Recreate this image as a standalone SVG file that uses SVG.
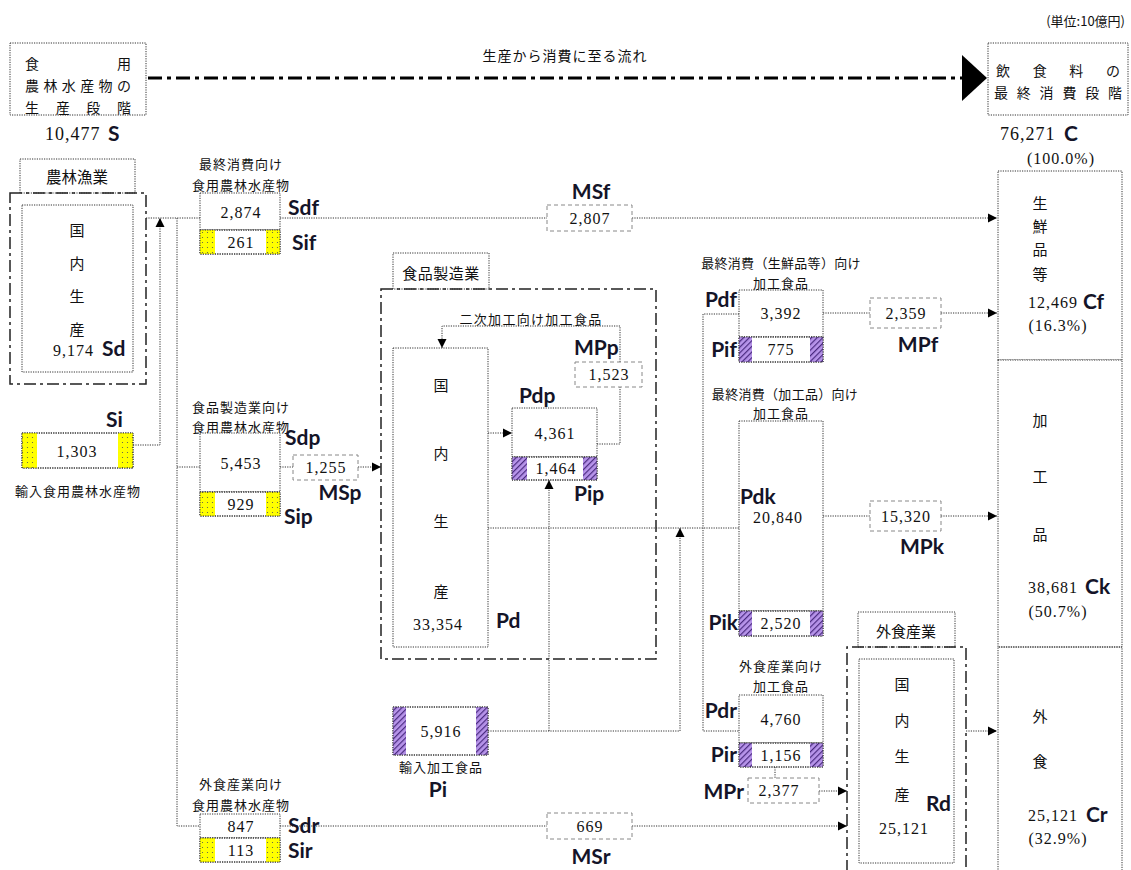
<svg xmlns="http://www.w3.org/2000/svg" width="1131" height="870" viewBox="0 0 1131 870">
<style>
.jp{font-family:"Noto Sans CJK JP","Noto Sans CJK SC",sans-serif;fill:#111}
.s12{font-size:13px;letter-spacing:1px}
.s14{font-size:15px}
.num{font-family:"Liberation Serif","DejaVu Serif",serif;font-size:16px;letter-spacing:1px;fill:#111}
.big{font-family:"Liberation Serif","DejaVu Serif",serif;font-size:18px;letter-spacing:1px;fill:#111}
.lab{font-family:Lato,"Open Sans","Liberation Sans",sans-serif;font-weight:bold;font-size:21px;fill:#141428}
.dot{fill:#fff;stroke:#333;stroke-width:1;stroke-dasharray:1.2,1.2}
.dotn{fill:none;stroke:#333;stroke-width:1;stroke-dasharray:1.2,1.2}
.dd{fill:none;stroke:#222;stroke-width:1.5;stroke-dasharray:12,4,3,4}
.gd{fill:#fff;stroke:#888;stroke-width:1;stroke-dasharray:4,3}
.ln{fill:none;stroke:#333;stroke-width:1;stroke-dasharray:1.2,1.2}
.ar{marker-end:url(#ah)}
.m{text-anchor:middle;dominant-baseline:central}
.c{dominant-baseline:central}
.e{text-anchor:end}
</style>
<defs>
<marker id="ah" viewBox="0 0 10 10" refX="10" refY="5" markerWidth="9" markerHeight="10" markerUnits="userSpaceOnUse" orient="auto">
<path d="M0,0 L10,5 L0,10 z" fill="#000"/>
</marker>
<pattern id="yel" width="5" height="5" patternUnits="userSpaceOnUse">
<rect width="5" height="5" fill="#ffff00"/>
<circle cx="2.5" cy="2.5" r="0.6" fill="#555"/>
</pattern>
<pattern id="pur" width="4" height="4" patternUnits="userSpaceOnUse" patternTransform="rotate(45)">
<rect width="4" height="4" fill="#b794ea"/>
<rect width="1.2" height="4" fill="#4a2a80"/>
</pattern>
</defs>

<rect width="1131" height="870" fill="#fff"/>

<!-- header -->
<g id="unit"><text class="jp c" x="1125" y="20" text-anchor="end" font-size="13">(単位:10億円)</text></g>
<g id="flow">
<line x1="148" y1="78" x2="962" y2="78" stroke="#000" stroke-width="3" stroke-dasharray="14,5,4,5"/>
<polygon points="962,55 987,78 962,101" fill="#000"/>
<text class="jp m" x="565" y="55" font-size="14" letter-spacing="1">生産から消費に至る流れ</text>
</g>
<g id="prodStage">
<rect class="dot" x="10" y="43" width="136" height="72"/>
<text class="jp c" x="25 117" y="63" font-size="14">食用</text>
<text class="jp c" x="25 43.4 61.8 80.2 98.6 117" y="85" font-size="14">農林水産物の</text>
<text class="jp c" x="25 55.7 86.3 117" y="107" font-size="14">生産段階</text>
<text class="big" x="45" y="140">10,477</text>
<text class="lab" x="108" y="141" font-size="23">S</text>
</g>
<g id="consStage">
<rect class="dot" x="988" y="43" width="140" height="72"/>
<text class="jp c" x="996 1032.7 1069.3 1106" y="70" font-size="14">飲食料の</text>
<text class="jp c" x="994 1016.8 1039.6 1062.4 1085.2 1108" y="92" font-size="14">最終消費段階</text>
<text class="big" x="1000" y="140">76,271</text>
<text class="lab" x="1064" y="141" font-size="23">C</text>
<text class="num m" x="1061" y="158">(100.0%)</text>
</g>

<!-- connectors -->
<g id="connectors">
<path class="ln" d="M146,218 H200"/>
<path class="ln ar" d="M133,445 H160 V218"/>
<path class="ln" d="M177,218 V826 H200"/>
<path class="ln" d="M177,467 H200"/>
<path class="ln" d="M280,218 H547"/>
<path class="ln ar" d="M632,218 H997"/>
<path class="ln" d="M280,467 H293"/>
<path class="ln ar" d="M358,467 H381"/>
<path class="ln" d="M280,826 H547"/>
<path class="ln ar" d="M632,826 H847"/>
<path class="ln ar" d="M488,433 H512"/>
<path class="ln" d="M597,444 H620 V387"/>
<path class="ln ar" d="M620,362 V326 H442 V348"/>
<path class="ln ar" d="M488,731 H680 V528"/>
<path class="ln ar" d="M549,731 V480"/>
<path class="ln" d="M488,528 H739"/>
<path class="ln" d="M739,314 H703 V731 H739"/>
<path class="ln" d="M823,313 H870"/>
<path class="ln ar" d="M941,313 H997"/>
<path class="ln" d="M823,516 H870"/>
<path class="ln ar" d="M941,516 H997"/>
<path class="ln" d="M775,767 V778"/>
<path class="ln ar" d="M819,791 H847"/>
<path class="ln ar" d="M966,731 H997"/>
</g>

<!-- agriculture -->
<g id="agri">
<rect class="dot" x="20" y="159" width="115" height="34"/>
<text class="jp m" x="77" y="176" font-size="15.5">農林漁業</text>
<rect class="dd" x="10" y="193" width="136" height="191"/>
<rect class="dot" x="22" y="205" width="111" height="167"/>
<text class="jp s14 m" x="77" y="229">国</text>
<text class="jp s14 m" x="77" y="262">内</text>
<text class="jp s14 m" x="77" y="295">生</text>
<text class="jp s14 m" x="77" y="328">産</text>
<text class="num c" x="53" y="350">9,174</text>
<text class="lab" x="102" y="356">Sd</text>
</g>

<g id="Si">
<text class="lab" x="106" y="427">Si</text>
<rect class="dot" x="22" y="433" width="111" height="35"/>
<rect x="22" y="433" width="15" height="35" fill="url(#yel)"/>
<rect x="118" y="433" width="15" height="35" fill="url(#yel)"/>
<rect class="dotn" x="22" y="433" width="111" height="35"/>
<text class="num m" x="77" y="451">1,303</text>
<text class="jp s12 m" x="78" y="490">輸入食用農林水産物</text>
</g>

<!-- Sdf/Sif -->
<g id="Sdf">
<text class="jp s12 m" x="241" y="163">最終消費向け</text>
<text class="jp s12 m" x="241" y="184">食用農林水産物</text>
<rect class="dot" x="200" y="193" width="80" height="37"/>
<text class="num m" x="241" y="212">2,874</text>
<rect class="dot" x="200" y="230" width="80" height="24"/>
<rect x="200" y="230" width="15" height="24" fill="url(#yel)"/>
<rect x="266" y="230" width="14" height="24" fill="url(#yel)"/>
<rect class="dotn" x="200" y="230" width="80" height="24"/>
<text class="num m" x="241" y="242">261</text>
<text class="lab" x="288" y="215">Sdf</text>
<text class="lab" x="292" y="250">Sif</text>
</g>

<g id="MSf">
<rect class="gd" x="547" y="205" width="85" height="26"/>
<text class="num m" x="590" y="218">2,807</text>
<text class="lab m" x="591" y="190">MSf</text>
</g>

<!-- Sdp/Sip -->
<g id="Sdp">
<text class="jp s12 m" x="241" y="406">食品製造業向け</text>
<text class="jp s12 m" x="241" y="426">食用農林水産物</text>
<rect class="dot" x="200" y="433" width="80" height="59"/>
<text class="num m" x="241" y="463">5,453</text>
<rect class="dot" x="200" y="492" width="80" height="24"/>
<rect x="200" y="492" width="15" height="24" fill="url(#yel)"/>
<rect x="266" y="492" width="14" height="24" fill="url(#yel)"/>
<rect class="dotn" x="200" y="492" width="80" height="24"/>
<text class="num m" x="241" y="504">929</text>
<text class="lab" x="285" y="445">Sdp</text>
<text class="lab" x="284" y="524">Sip</text>
</g>

<g id="MSp">
<rect class="gd" x="293" y="455" width="65" height="25"/>
<text class="num m" x="326" y="467">1,255</text>
<text class="lab m" x="340" y="491">MSp</text>
</g>

<!-- Sdr/Sir -->
<g id="Sdr">
<text class="jp s12 m" x="241" y="783">外食産業向け</text>
<text class="jp s12 m" x="241" y="804">食用農林水産物</text>
<rect class="dot" x="200" y="814" width="80" height="24"/>
<text class="num m" x="241" y="826">847</text>
<rect class="dot" x="200" y="838" width="80" height="24"/>
<rect x="200" y="838" width="15" height="24" fill="url(#yel)"/>
<rect x="266" y="838" width="14" height="24" fill="url(#yel)"/>
<rect class="dotn" x="200" y="838" width="80" height="24"/>
<text class="num m" x="241" y="850">113</text>
<text class="lab" x="288" y="833">Sdr</text>
<text class="lab" x="288" y="858">Sir</text>
</g>

<g id="MSr">
<rect class="gd" x="547" y="813" width="85" height="26"/>
<text class="num m" x="590" y="826">669</text>
<text class="lab m" x="591" y="855">MSr</text>
</g>

<!-- food manufacturing -->
<g id="foodMfg">
<rect class="dot" x="393" y="253" width="96" height="36"/>
<text class="jp m" x="441" y="272" font-size="15" letter-spacing="0.5">食品製造業</text>
<rect class="dd" x="381" y="289" width="275" height="370"/>
<text class="jp m" x="531" y="318" font-size="13" letter-spacing="1.3">二次加工向け加工食品</text>
</g>

<g id="Pd">
<rect class="dot" x="393" y="348" width="95" height="299"/>
<text class="jp s14 m" x="441" y="384">国</text>
<text class="jp s14 m" x="441" y="452">内</text>
<text class="jp s14 m" x="441" y="520">生</text>
<text class="jp s14 m" x="441" y="590">産</text>
<text class="num m" x="438" y="624">33,354</text>
<text class="lab" x="496" y="628">Pd</text>
</g>

<g id="MPp">
<rect class="gd" x="575" y="362" width="67" height="25"/>
<text class="num m" x="609" y="374">1,523</text>
<text class="lab" x="574" y="355">MPp</text>
</g>

<g id="Pdp">
<text class="lab" x="519" y="403">Pdp</text>
<rect class="dot" x="512" y="408" width="85" height="49"/>
<text class="num m" x="555" y="433">4,361</text>
<rect class="dot" x="512" y="457" width="85" height="23"/>
<rect x="512" y="457" width="15" height="23" fill="url(#pur)"/>
<rect x="583" y="457" width="14" height="23" fill="url(#pur)"/>
<rect class="dotn" x="512" y="457" width="85" height="23"/>
<text class="num m" x="556" y="468">1,464</text>
<text class="lab" x="574" y="501">Pip</text>
</g>

<g id="Pi">
<rect class="dot" x="393" y="707" width="95" height="48"/>
<rect x="393" y="707" width="13" height="48" fill="url(#pur)"/>
<rect x="476" y="707" width="12" height="48" fill="url(#pur)"/>
<rect class="dotn" x="393" y="707" width="95" height="48"/>
<text class="num m" x="441" y="731">5,916</text>
<text class="jp s12 m" x="441" y="766">輸入加工食品</text>
<text class="lab m" x="438" y="788">Pi</text>
</g>

<!-- Pdf -->
<g id="Pdf">
<text class="jp m" x="781" y="262" font-size="13" letter-spacing="0.3">最終消費（生鮮品等）向け</text>
<text class="jp s12 m" x="781" y="282">加工食品</text>
<rect class="dot" x="739" y="290" width="84" height="47"/>
<text class="num m" x="781" y="313">3,392</text>
<rect class="dot" x="739" y="337" width="84" height="25"/>
<rect x="739" y="337" width="13" height="25" fill="url(#pur)"/>
<rect x="810" y="337" width="13" height="25" fill="url(#pur)"/>
<rect class="dotn" x="739" y="337" width="84" height="25"/>
<text class="num m" x="781" y="349">775</text>
<text class="lab e" x="737" y="307">Pdf</text>
<text class="lab e" x="737" y="357">Pif</text>
</g>

<g id="MPf">
<rect class="gd" x="870" y="298" width="71" height="30"/>
<text class="num m" x="906" y="313">2,359</text>
<text class="lab m" x="918" y="343">MPf</text>
</g>

<!-- Pdk -->
<g id="Pdk">
<text class="jp m" x="785" y="393" font-size="13" letter-spacing="0.3">最終消費（加工品）向け</text>
<text class="jp s12 m" x="781" y="412">加工食品</text>
<rect class="dot" x="739" y="421" width="84" height="190"/>
<text class="lab" x="740" y="504">Pdk</text>
<text class="num m" x="778" y="517">20,840</text>
<rect class="dot" x="739" y="611" width="84" height="25"/>
<rect x="739" y="611" width="13" height="25" fill="url(#pur)"/>
<rect x="810" y="611" width="13" height="25" fill="url(#pur)"/>
<rect class="dotn" x="739" y="611" width="84" height="25"/>
<text class="num m" x="781" y="623">2,520</text>
<text class="lab e" x="738" y="630">Pik</text>
</g>

<g id="MPk">
<rect class="gd" x="870" y="501" width="71" height="30"/>
<text class="num m" x="906" y="516">15,320</text>
<text class="lab m" x="922" y="545">MPk</text>
</g>

<!-- Pdr -->
<g id="Pdr">
<text class="jp s12 m" x="781" y="665">外食産業向け</text>
<text class="jp s12 m" x="781" y="685">加工食品</text>
<rect class="dot" x="739" y="695" width="84" height="48"/>
<text class="num m" x="781" y="719">4,760</text>
<rect class="dot" x="739" y="743" width="84" height="24"/>
<rect x="739" y="743" width="13" height="24" fill="url(#pur)"/>
<rect x="810" y="743" width="13" height="24" fill="url(#pur)"/>
<rect class="dotn" x="739" y="743" width="84" height="24"/>
<text class="num m" x="781" y="755">1,156</text>
<text class="lab e" x="737" y="718">Pdr</text>
<text class="lab e" x="737" y="762">Pir</text>
</g>

<g id="MPr">
<rect class="gd" x="748" y="778" width="71" height="25"/>
<text class="num m" x="779" y="790">2,377</text>
<text class="lab e" x="744" y="799">MPr</text>
</g>

<!-- restaurant -->
<g id="restaurant">
<rect class="dot" x="858" y="612" width="97" height="35"/>
<text class="jp m" x="906" y="630" font-size="15">外食産業</text>
<path class="dd" d="M847,872 V647 H966 V872"/>
<rect class="dot" x="859" y="659" width="95" height="204"/>
<text class="jp s14 m" x="902" y="683">国</text>
<text class="jp s14 m" x="902" y="719">内</text>
<text class="jp s14 m" x="902" y="755">生</text>
<text class="jp s14 m" x="902" y="793">産</text>
<text class="lab" x="926" y="811">Rd</text>
<text class="num m" x="904" y="828">25,121</text>
</g>

<!-- consumption column -->
<g id="Cf">
<rect class="dot" x="998" y="171" width="124" height="189"/>
<text class="jp s14 m" x="1040" y="202">生</text>
<text class="jp s14 m" x="1040" y="225">鮮</text>
<text class="jp s14 m" x="1040" y="248">品</text>
<text class="jp s14 m" x="1040" y="273">等</text>
<text class="num c" x="1028" y="302">12,469</text>
<text class="lab" x="1083" y="309">Cf</text>
<text class="num m" x="1058" y="325">(16.3%)</text>
</g>
<g id="Ck">
<rect class="dot" x="998" y="360" width="124" height="287"/>
<text class="jp s14 m" x="1040" y="419">加</text>
<text class="jp s14 m" x="1040" y="475">工</text>
<text class="jp s14 m" x="1040" y="533">品</text>
<text class="num c" x="1028" y="587">38,681</text>
<text class="lab" x="1085" y="594">Ck</text>
<text class="num m" x="1058" y="611">(50.7%)</text>
</g>
<g id="Cr">
<path class="dotn" d="M998,872 V647 H1122 V872"/>
<text class="jp s14 m" x="1040" y="715">外</text>
<text class="jp s14 m" x="1040" y="760">食</text>
<text class="num c" x="1028" y="815">25,121</text>
<text class="lab" x="1086" y="822">Cr</text>
<text class="num m" x="1058" y="838">(32.9%)</text>
</g>
</svg>
